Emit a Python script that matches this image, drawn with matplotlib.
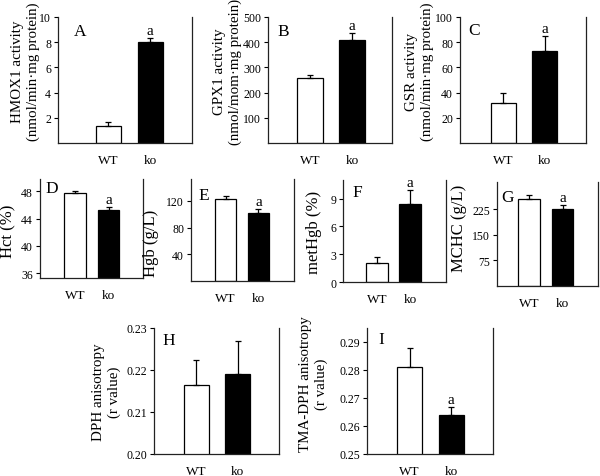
import matplotlib
matplotlib.use("Agg")
import matplotlib.pyplot as plt
import numpy as np

plt.rcParams['font.family'] = ['Liberation Serif', 'DejaVu Serif']

# data
panel_names = ['A', 'B', 'C', 'D', 'E', 'F', 'G', 'H', 'I']
groups = ['WT', 'ko']
wt_mean = [1.35, 257, 31.5, 47.7, 122.4, 2.1, 254.6, 0.2165, 0.281]
wt_err = [0.32, 13, 8, 0.35, 5, 0.65, 12, 0.006, 0.0067]
ko_mean = [8.04, 409, 73, 45.26, 102.4, 8.45, 227, 0.219, 0.264]
ko_err = [0.27, 26, 11.7, 0.4, 5.6, 1.45, 10.7, 0.008, 0.0028]
signif = [True, True, True, True, True, True, True, False, True]
ylabels = ['HMOX1 activity\n(nmol/min\u00b7mg protein)',
           'GPX1 activity\n(nmol/mom\u00b7mg protein)',
           'GSR activity\n(nmol/min\u00b7mg protein)',
           'Hct (%)', 'Hgb (g/L)', 'metHgb (%)', 'MCHC (g/L)',
           'DPH anisotropy\n(r value)', 'TMA-DPH anisotropy\n(r value)']
ylims = [(0, 10), (0, 500), (0, 100), (35.3, 49.8), (0, 153), (0, 11),
         (0, 305), (0.20, 0.23), (0.25, 0.295)]
yticks = [[2, 4, 6, 8, 10], [100, 200, 300, 400, 500], [20, 40, 60, 80, 100],
          [36, 40, 44, 48], [40, 80, 120], [0, 3, 6, 9], [75, 150, 225],
          [0.20, 0.21, 0.22, 0.23], [0.25, 0.26, 0.27, 0.28, 0.29]]
ytickfmt = ['%d'] * 7 + ['%.2f', '%.2f']

# layout (pixels): axes box left, right, top, bottom
boxes = [(58, 192, 18, 144), (268, 392, 18, 144), (460, 586, 18, 144),
         (40, 143, 180, 279), (191, 294, 180, 282), (343, 446, 181, 283),
         (497, 598, 183, 287), (154, 279, 329, 455), (367, 493, 329, 455)]
xlims = [(-1.2, 2.0), (-1.0, 1.95), (-1.04, 1.99), (-1.05, 2.03), (-1.05, 2.08),
         (-1.03, 2.09), (-0.96, 2.06), (-1.02, 2.0), (-1.02, 2.0)]
# ylabel right edge x (px) and vertical centre (px)
label_pos = [(40, 72), (242, 72), (434, 72), (16, 231), (159, 243),
             (322, 232), (467, 228), (121, 392), (328, 384)]
# panel letter left x and baseline y (px)
letter_pos = [(74, 36), (277, 36), (468, 35), (45, 193), (198, 200),
              (352, 197), (501, 202), (162, 345), (378, 344)]

W, H = 600, 477
fig = plt.figure(figsize=(6, 4.77), dpi=100)

for i in range(9):
    l, r, t, b = boxes[i]
    w, h = r - l, b - t
    ax = fig.add_axes([l / W, 1 - b / H, w / W, h / H])
    middle = 3 <= i <= 6
    bw = 0.65 if middle else 0.6
    x = np.arange(2)
    means = [wt_mean[i], ko_mean[i]]
    errs = [wt_err[i], ko_err[i]]
    ax.bar(x, means, width=bw, color=['white', 'black'], edgecolor='black',
           linewidth=0.9, zorder=2)
    ax.errorbar(x, means, yerr=[[0, 0], errs], fmt='none', ecolor='black',
                elinewidth=0.9, capsize=2, capthick=0.9, zorder=3)
    if signif[i]:
        ax.annotate('a', (1, ko_mean[i] + ko_err[i]), xytext=(0, 1),
                    textcoords='offset points', ha='center', va='bottom',
                    fontsize=11)
    ax.set_xlim(xlims[i])
    ax.set_ylim(ylims[i])
    ax.set_yticks(yticks[i])
    ax.set_yticklabels([ytickfmt[i] % v for v in yticks[i]], fontsize=8.5)
    ax.set_xticks(x)
    ax.set_xticklabels(groups, fontsize=9.5)
    ax.tick_params(axis='x', length=0, pad=8)
    ax.tick_params(axis='y', length=3, width=0.8, pad=2)
    ax.spines['top'].set_visible(False)
    for s in ['left', 'right', 'bottom']:
        ax.spines[s].set_linewidth(0.9)
        ax.spines[s].set_color('#222222')
    ax.set_ylabel(ylabels[i], fontsize=12 if middle else 10.8, linespacing=1.25)
    lx, ly = label_pos[i]
    ax.yaxis.set_label_coords((lx - l) / w, (b - ly) / h)
    px, py = letter_pos[i]
    ax.text((px - l) / w, (b - py) / h, panel_names[i], transform=ax.transAxes,
            fontsize=12.5, ha='left', va='baseline')

fig.savefig('out.png', dpi=100)
